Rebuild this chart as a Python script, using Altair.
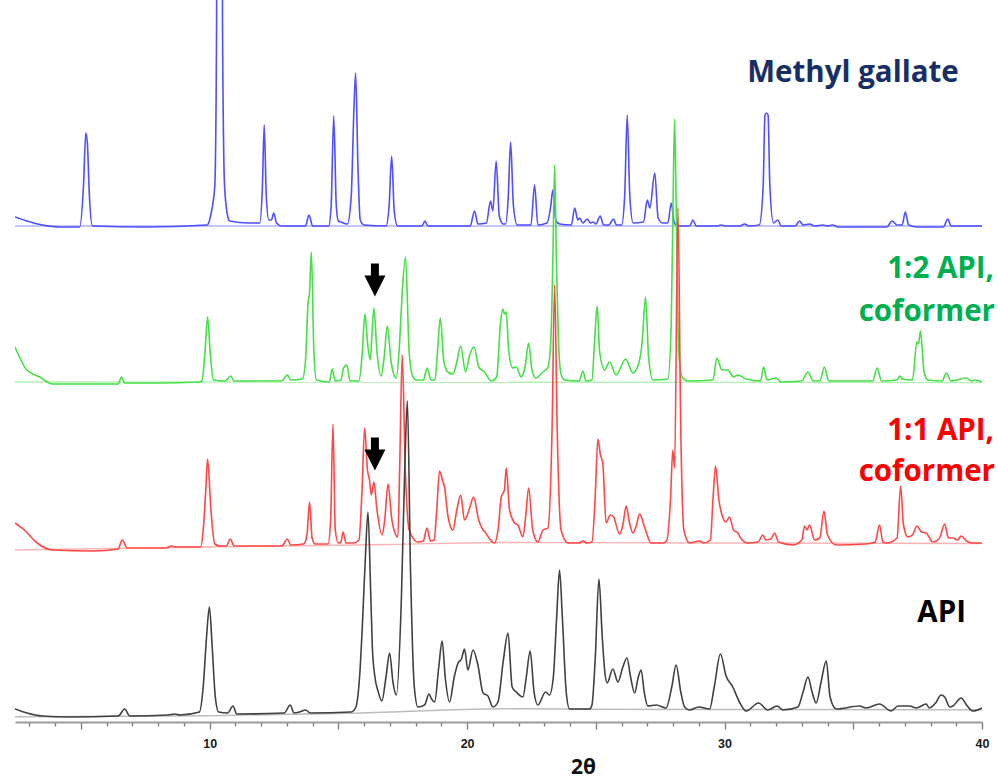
import altair as alt
import pandas as pd

# Powder X-ray diffraction patterns: 2θ vertices and intensity above each pattern's own baseline
BLUE_2T = [2.44, 2.9, 3.5, 4.2, 4.95, 5.1, 5.19, 5.25, 5.33, 5.45, 7.5, 9.9, 10.06, 10.2, 10.27, 10.3, 10.39,
           10.47, 10.5, 10.58, 10.7, 10.78, 11.5, 11.95, 12.05, 12.12, 12.2, 12.3, 12.4, 12.49, 12.6, 12.8,
           13.72, 13.86, 14.0, 14.62, 14.72, 14.82, 14.92, 15.0, 15.1, 15.35, 15.5, 15.6, 15.67, 15.76, 15.85,
           16.0, 16.85, 16.97, 17.07, 17.17, 17.3, 18.25, 18.36, 18.48, 20.12, 20.29, 20.42, 20.75, 20.91, 21.0,
           21.13, 21.25, 21.4, 21.5, 21.6, 21.69, 21.8, 21.95, 22.48, 22.62, 22.75, 23.1, 23.25, 23.33, 23.45,
           23.6, 24.05, 24.18, 24.3, 24.37, 24.5, 24.67, 24.78, 24.89, 25.0, 25.17, 25.3, 25.5, 25.69, 25.8,
           26.0, 26.12, 26.22, 26.32, 26.45, 26.85, 27.0, 27.1, 27.29, 27.42, 27.6, 27.8, 27.93, 28.05, 28.2,
           28.65, 28.77, 28.9, 29.7, 29.87, 30.05, 30.6, 30.78, 30.95, 31.35, 31.5, 31.57, 31.63, 31.69, 31.76,
           31.9, 32.07, 32.2, 32.75, 32.91, 33.05, 33.3, 33.5, 33.82, 34.0, 34.2, 34.4, 36.3, 36.51, 36.7,
           36.9, 37.02, 37.15, 37.5, 38.5, 38.67, 38.8, 40.0]
BLUE_I = [9, 5, 1, -1, -1, 40, 93, 83, 30, 0, -1, 1, 13, 40, 200, 520, 800,
          520, 200, 40, 10, 5, 3, 3, 40, 101, 30, 6, 6, 13, 3, 0,
          0, 11, 0, 0, 20, 110, 20, 5, 4, 2, 30, 113, 153, 60, 6,
          1, 0, 20, 70, 15, 0, 0, 5, 0, 0, 15, 2, 3, 25, 15,
          65, 10, 2, 2, 30, 84, 20, 1, 1, 41, 1, 3, 20, 36, 5,
          2, 1, 18, 6, 8, 3, 7, 3, 4, 2, 10, 1, 1, 7, 1,
          1, 30, 111, 30, 3, 4, 26, 18, 53, 8, 3, 3, 23, 3, 0,
          0, 6, 0, 0, 1, 0, 0, 2, 0, 1, 40, 111, 113, 111, 40,
          3, 6, 0, 0, 5, 1, 2, 0, 1, 0, 1, -1, -1, 5, 1,
          1, 14, 1, -1, -1, 7, 0, 0]

GREEN_2T = [2.44, 2.9, 3.4, 3.9, 5.0, 6.45, 6.57, 6.7, 8.0, 9.6, 9.7, 9.82, 9.92, 10.02, 10.15, 10.6, 10.82,
            10.95, 12.8, 13.02, 13.15, 13.6, 13.72, 13.82, 13.88, 13.95, 14.05, 14.15, 14.65, 14.76, 14.88,
            15.1, 15.2, 15.33, 15.45, 15.8, 15.93, 16.03, 16.15, 16.24, 16.3, 16.38, 16.5, 16.66, 16.78, 16.9,
            17.05, 17.25, 17.38, 17.47, 17.61, 17.75, 17.9, 18.03, 18.3, 18.45, 18.6, 18.75, 18.85, 18.96,
            19.1, 19.25, 19.45, 19.6, 19.75, 19.94, 20.1, 20.27, 20.45, 20.68, 20.94, 21.15, 21.3, 21.39,
            21.45, 21.52, 21.62, 21.78, 21.91, 22.1, 22.25, 22.39, 22.52, 22.68, 22.94, 23.13, 23.25, 23.33,
            23.4, 23.47, 23.55, 23.65, 23.79, 24.35, 24.5, 24.62, 24.85, 24.95, 25.05, 25.15, 25.34, 25.53,
            25.79, 26.16, 26.44, 26.66, 26.8, 26.93, 27.05, 27.22, 27.8, 27.93, 28.0, 28.06, 28.12, 28.22,
            28.35, 28.6, 29.55, 29.7, 29.9, 30.13, 30.35, 30.52, 30.84, 31.4, 31.52, 31.65, 32.0, 32.2, 33.0,
            33.24, 33.45, 33.7, 33.88, 34.05, 35.5, 35.75, 35.93, 36.1, 36.7, 36.8, 36.9, 37.3, 37.47, 37.53,
            37.61, 37.75, 37.9, 38.45, 38.61, 38.8, 39.4, 39.6, 39.75, 40.0]
GREEN_I = [35, 12, 5, -2, -2, -2, 5, -1, -1, 0, 1, 30, 65, 30, 2, 1, 6,
           1, 1, 7, 2, 3, 20, 78, 90, 130, 30, 2, 0, 13, 1,
           2, 14, 17, 1, 1, 30, 68, 35, 22, 45, 74, 30, 6, 25, 56,
           20, 4, 40, 85, 125, 30, 5, 2, 2, 14, 2, 2, 30, 64,
           20, 10, 8, 20, 36, 10, 27, 35, 15, 10, 1, 5, 60, 73,
           68, 70, 30, 14, 15, 5, 15, 39, 12, 4, 10, 14, 40, 120,
           217, 120, 40, 8, 2, 1, 11, 1, 2, 40, 76, 30, 12, 20,
           7, 23, 9, 18, 40, 85, 25, 2, 3, 60, 180, 263, 180, 30,
           5, 1, 2, 24, 12, 12, 5, 7, 3, 1, 15, 2, 4, 0, 1,
           10, 1, 1, 15, 1, 1, 1, 14, 1, 2, 6, 3, 2, 40, 38,
           51, 10, 2, 1, 9, 1, 4, 1, 2, 0]

RED_2T = [2.44, 2.8, 3.3, 3.9, 5.5, 6.45, 6.6, 6.8, 8.3, 8.51, 8.7, 9.65, 9.75, 9.85, 9.92, 10.05, 10.2, 10.4,
          10.65, 10.8, 10.95, 12.8, 13.02, 13.15, 13.65, 13.78, 13.88, 13.98, 14.1, 14.6, 14.7, 14.79, 14.88,
          15.0, 15.1, 15.18, 15.3, 15.6, 15.8, 15.92, 16.02, 16.13, 16.21, 16.28, 16.38, 16.5, 16.7, 16.8,
          16.93, 17.08, 17.31, 17.38, 17.48, 17.6, 17.75, 18.09, 18.3, 18.44, 18.58, 18.72, 18.82, 18.93,
          19.04, 19.13, 19.25, 19.45, 19.6, 19.75, 19.9, 20.1, 20.25, 20.45, 20.62, 20.7, 20.85, 21.07, 21.2,
          21.33, 21.45, 21.52, 21.65, 21.85, 21.97, 22.17, 22.28, 22.39, 22.55, 22.75, 22.95, 23.14, 23.3,
          23.4, 23.5, 23.65, 23.92, 24.35, 24.5, 24.65, 24.85, 24.97, 25.08, 25.18, 25.27, 25.4, 25.56, 25.69,
          25.92, 26.05, 26.18, 26.3, 26.44, 26.58, 26.7, 26.89, 27.15, 27.6, 27.75, 27.9, 27.99, 28.06,
          28.19, 28.3, 28.42, 28.64, 29.03, 29.2, 29.45, 29.55, 29.65, 29.78, 29.87, 30.05, 30.19, 30.35,
          30.52, 30.6, 30.9, 31.3, 31.49, 31.6, 31.8, 31.94, 32.1, 32.65, 33.0, 33.11, 33.2, 33.3, 33.5,
          33.7, 33.86, 34.0, 34.34, 35.5, 35.85, 36.02, 36.15, 36.28, 36.7, 36.84, 36.95, 37.12, 37.3, 37.47,
          37.65, 37.83, 38.09, 38.35, 38.55, 38.7, 38.87, 39.05, 39.19, 39.4, 39.64, 40.0]
RED_I = [27, 20, 7, 0, -1, 1, 10, 2, 2, 4, 3, 3, 20, 60, 91, 40, 6, 4,
         4, 11, 4, 4, 11, 5, 6, 15, 48, 12, 6, 6, 30, 126, 20,
         7, 8, 18, 7, 7, 10, 60, 122, 80, 70, 55, 68, 40, 15, 30,
         66, 30, 13, 80, 195, 80, 20, 8, 9, 22, 9, 10, 40, 79,
         70, 62, 35, 20, 40, 55, 30, 42, 53, 30, 20, 18, 12, 7, 20,
         53, 60, 82, 40, 27, 25, 13, 35, 62, 20, 8, 20, 22, 120,
         265, 120, 20, 7, 7, 9, 7, 8, 50, 111, 95, 87, 27, 35, 33,
         16, 25, 44, 28, 17, 25, 36, 23, 7, 7, 9, 50, 100, 82,
         342, 120, 20, 7, 9, 7, 10, 50, 84, 50, 38, 28, 33, 20,
         17, 13, 7, 8, 15, 10, 11, 17, 8, 5, 10, 24, 20, 25, 10,
         12, 39, 15, 5, 6, 8, 25, 8, 7, 12, 64, 25, 13, 15, 24,
         18, 17, 8, 12, 26, 12, 12, 10, 14, 9, 7, 7]

BLACK_2T = [2.44, 2.9, 3.5, 4.5, 6.45, 6.7, 6.9, 8.4, 8.64, 8.85, 9.6, 9.75, 9.88, 9.99, 10.1, 10.22, 10.35,
            10.7, 10.91, 11.05, 12.9, 13.13, 13.28, 13.5, 13.73, 13.9, 15.5, 15.68, 15.85, 15.93, 16.05, 16.15,
            16.25, 16.32, 16.41, 16.55, 16.69, 16.85, 16.99, 17.12, 17.25, 17.45, 17.58, 17.68, 17.8, 17.95,
            18.09, 18.35, 18.52, 18.62, 18.74, 18.9, 19.03, 19.15, 19.32, 19.5, 19.65, 19.78, 19.9, 20.03,
            20.23, 20.42, 20.62, 20.81, 21.0, 21.2, 21.4, 21.59, 21.75, 21.91, 22.17, 22.3, 22.45, 22.6, 22.75,
            23.05, 23.2, 23.35, 23.48, 23.59, 23.7, 23.85, 23.98, 24.76, 24.85, 24.98, 25.12, 25.25, 25.35,
            25.44, 25.66, 25.86, 26.05, 26.21, 26.35, 26.51, 26.65, 26.76, 26.88, 27.02, 27.35, 27.73, 27.95,
            28.12, 28.3, 28.45, 28.64, 29.0, 29.42, 29.6, 29.84, 30.06, 30.32, 30.58, 30.84, 31.32, 31.68,
            32.04, 32.27, 32.85, 33.05, 33.24, 33.4, 33.56, 33.75, 33.95, 34.1, 34.34, 35.24, 35.5, 36.02,
            36.47, 36.74, 37.19, 37.45, 37.83, 37.95, 38.2, 38.41, 38.55, 38.75, 38.87, 39.19, 39.4, 39.64, 40.0]
BLACK_I = [8, 4, 1, 0, 1, 8, 1, 2, 3, 2, 5, 30, 80, 110, 70, 20, 5,
           4, 11, 3, 4, 12, 4, 5, 7, 4, 5, 10, 50, 90, 160, 205,
           130, 70, 42, 25, 16, 40, 64, 35, 22, 120, 250, 316, 150, 30,
           10, 12, 23, 18, 15, 50, 76, 40, 15, 40, 54, 58, 68, 47,
           67, 52, 24, 21, 10, 15, 55, 84, 30, 25, 20, 40, 66, 25, 12,
           25, 22, 40, 100, 147, 100, 25, 8, 8, 12, 60, 138, 80, 45,
           34, 48, 35, 50, 59, 40, 24, 40, 47, 25, 11, 12, 9, 30,
           52, 25, 10, 7, 10, 8, 30, 63, 41, 30, 15, 6, 14, 7,
           11, 7, 10, 25, 40, 25, 14, 35, 56, 20, 8, 11, 9, 13,
           6, 11, 11, 9, 13, 9, 14, 22, 20, 10, 11, 19, 12, 6, 9]

# Fitted background curve under each pattern
BG_2T = {
    "Methyl gallate": [2.44, 40.0],
    "1:2 API, coformer": [2.44, 40.0],
    "1:1 API, coformer": [2.44, 10.0, 17.0, 21.4, 30.0, 40.0],
    "API": [2.44, 10.0, 15.4, 21.4, 25.0, 30.0, 40.0],
}
BG_I = {
    "Methyl gallate": [0, 0],
    "1:2 API, coformer": [0, -0.5],
    "1:1 API, coformer": [0, 3, 5.5, 7.5, 7, 6.5],
    "API": [0.3, 1.3, 3.7, 8.3, 7.8, 7.5, 7.3],
}

SERIES = ["Methyl gallate", "1:2 API, coformer", "1:1 API, coformer", "API"]
TRACE_2T = [BLUE_2T, GREEN_2T, RED_2T, BLACK_2T]
TRACE_I = [BLUE_I, GREEN_I, RED_I, BLACK_I]
OFFSETS = [496, 340, 172, 5]          # vertical stacking of the patterns
LINE_COLORS = ["#4f4fff", "#44e044", "#ff4747", "#404040"]
BG_COLORS = ["#b4b4ff", "#b0f2b0", "#ffb4b4", "#bdbdbd"]

# Peak marked with an arrow (2θ) in the two co-crystal patterns
ARROW_SERIES = ["1:2 API, coformer", "1:1 API, coformer"]
ARROW_2T = [16.42, 16.42]
ARROW_PEAK_I = [74, 68]

rows, bg_rows = [], []
for s, xs, ys, off in zip(SERIES, TRACE_2T, TRACE_I, OFFSETS):
    rows += [{"series": s, "two_theta": x, "y": off + v} for x, v in zip(xs, ys)]
    bg_rows += [{"series": s, "two_theta": x, "y": off + v} for x, v in zip(BG_2T[s], BG_I[s])]
df = pd.DataFrame(rows)
bg_df = pd.DataFrame(bg_rows)

arrow_df = pd.DataFrame({
    "series": ARROW_SERIES,
    "two_theta": ARROW_2T,
    "y": [OFFSETS[SERIES.index(s)] + v + 28 for s, v in zip(ARROW_SERIES, ARROW_PEAK_I)],
})

x_enc = alt.X(
    "two_theta:Q",
    scale=alt.Scale(domain=[2.44, 40], nice=False, zero=False),
    axis=alt.Axis(
        title="2θ",
        values=list(range(3, 41)),
        labelExpr="datum.value % 10 === 0 ? datum.label : ''",
        tickSize={"condition": {"test": "datum.value % 5 === 0", "value": 7}, "value": 4},
        tickColor="#7a7a7a",
        tickWidth=1.3,
        domainColor="#9c9c9c",
        domainWidth=2,
        grid=False,
        labelFont="Liberation Sans",
        labelFontWeight="bold",
        labelFontSize=12.5,
        labelColor="#1a1a1a",
        labelPadding=8,
        labelFlush=False,
        labelOverlap=False,
        titleFont="Open Sans",
        titleFontWeight="bold",
        titleFontSize=21,
        titleColor="#111111",
        titleX=568,
        titleY=51,
        titleAlign="center",
        titleBaseline="alphabetic",
    ),
)
y_enc = alt.Y("y:Q", scale=alt.Scale(domain=[0, 722], nice=False, zero=False), axis=None)

layers = []
for s, c in zip(SERIES, BG_COLORS):
    layers.append(
        alt.Chart(bg_df[bg_df.series == s]).mark_line(color=c, strokeWidth=1.4, interpolate="monotone")
        .encode(x=x_enc, y=y_enc)
    )
for s, c in zip(SERIES, LINE_COLORS):
    layers.append(
        alt.Chart(df[df.series == s]).mark_line(color=c, strokeWidth=1.6, clip=True, interpolate="monotone")
        .encode(x=x_enc, y=y_enc)
    )

ARROW_PATH = "M -0.38 -1.57 L 0.38 -1.57 L 0.38 -0.43 L 1 -0.43 L 0 1.57 L -1 -0.43 L -0.38 -0.43 Z"
layers.append(
    alt.Chart(arrow_df).mark_point(shape=ARROW_PATH, filled=True, color="black", opacity=1,
                                   size=441, strokeWidth=0).encode(x=x_enc, y=y_enc)
)

# Pattern labels
label_specs = [
    ("Methyl gallate", "#172f66", 838, 82, "center"),
    ("1:2 API,", "#00b050", 979, 278, "right"),
    ("coformer", "#00b050", 980, 321, "right"),
    ("1:1 API,", "#ff0000", 979, 440, "right"),
    ("coformer", "#ff0000", 980, 481, "right"),
    ("API", "#000000", 951, 622, "right"),
]
for text, color, px, py, align in label_specs:
    layers.append(
        alt.Chart(pd.DataFrame({"label": [text]})).mark_text(
            font="Open Sans", fontWeight="bold", fontSize=29.5, color=color,
            align=align, baseline="alphabetic",
        ).encode(x=alt.value(px), y=alt.value(py), text="label:N")
    )

chart = (
    alt.layer(*layers)
    .properties(width=967, height=722, padding={"left": 12, "top": 0, "right": 0, "bottom": 4})
    .configure_view(strokeWidth=0)
)

chart.save("out.html", embed_options={"renderer": "svg", "actions": False})
